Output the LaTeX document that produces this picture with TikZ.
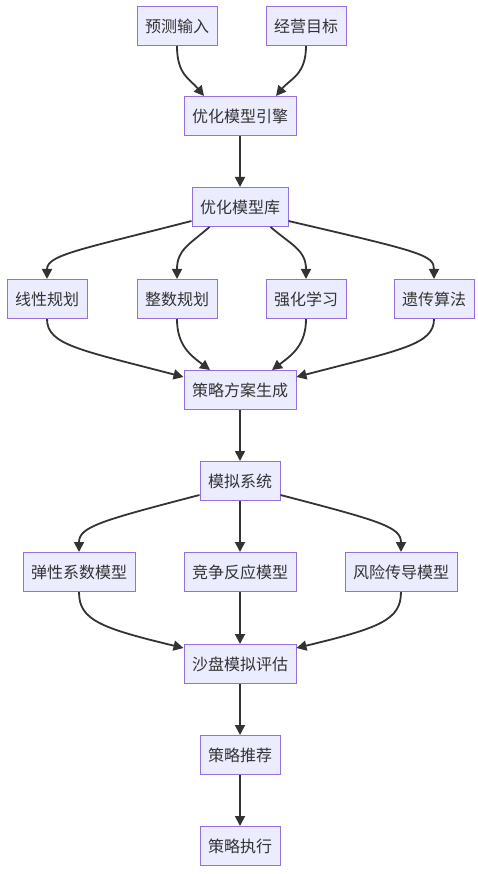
\documentclass[tikz,border=0pt]{standalone}
\usepackage{fontspec}
\newfontfamily\cjk{Noto Sans CJK SC}
\usetikzlibrary{arrows.meta,shapes}
\definecolor{boxfill}{HTML}{ECECFF}
\definecolor{boxline}{HTML}{9370DB}
\definecolor{edgecol}{HTML}{333333}
\begin{document}
\begin{tikzpicture}[x=1pt,y=-1pt]
				\tikzstyle{box}=[draw=boxline, fill=boxfill, line width=1pt, minimum height=39pt, inner xsep=8pt, text=edgecol, font=\cjk\fontsize{16}{19}\selectfont]
				\tikzstyle{arrow}=[draw=edgecol, line width=1.8pt, -{Triangle[length=10pt,width=10pt]}]
				\newcommand\XMid{240}
				\newcommand\XL{177}
				\newcommand\XR{306}

				\newcommand\Yin{26}
				\newcommand\Yeng{116}
				\newcommand\Ylib{207}
				\newcommand\Yalg{299}
				\newcommand\Yplan{390}
				\newcommand\Ysim{481}
				\newcommand\Ymod{572}
				\newcommand\Yeval{664}
				\newcommand\Yrec{755}
				\newcommand\Yexe{846}

				\useasboundingbox (0,0) rectangle (478,874);

				 % Inputs
				\node [box] at (\XL,\Yin) (fc) {预测输入};
				\node [box] at (\XR,\Yin) (goal) {经营目标};
				\node [box] at (\XMid,\Yeng) (eng) {优化模型引擎};
				\node [box] at (\XMid,\Ylib) (lib) {优化模型库};

				 % Algorithms
				\node [box] at (47,\Yalg) (lp) {线性规划};
				\node [box] at (\XL,\Yalg) (ip) {整数规划};
				\node [box] at (\XR,\Yalg) (rl) {强化学习};
				\node [box] at (434,\Yalg) (ga) {遗传算法};
				\node [box] at (\XMid,\Yplan) (plan) {策略方案生成};

				 % Simulation
				\node [box] at (\XMid,\Ysim) (sim) {模拟系统};
				\node [box] at (79,\Ymod) (elas) {弹性系数模型};
				\node [box] at (\XMid,\Ymod) (comp) {竞争反应模型};
				\node [box] at (401,\Ymod) (risk) {风险传导模型};
				\node [box] at (\XMid,\Yeval) (eval) {沙盘模拟评估};
				\node [box] at (\XMid,\Yrec) (rec) {策略推荐};
				\node [box] at (\XMid,\Yexe) (exe) {策略执行};

				 % Path Arrows
				\path [arrow] (fc.south) .. controls +(0,29) and +(-14,-17) .. ([xshift=-36pt]eng.north);
				\path [arrow] (goal.south) .. controls +(0,29) and +(14,-17) .. ([xshift=36pt]eng.north);
				\path [arrow] (eng) -- (lib);

				\path [arrow] ([yshift=6pt]lib.south west) .. controls +(-113,29) and +(0,-24) .. (lp.north);
				\path [arrow] ([xshift=18pt]lib.south west) .. controls +(-21,18) and +(0,-29) .. (ip.north);
				\path [arrow] ([xshift=-18pt]lib.south east) .. controls +(21,18) and +(0,-29) .. (rl.north);
				\path [arrow] ([yshift=6pt]lib.south east) .. controls +(133,31) and +(0,-24) .. (ga.north);

				\path [arrow] (lp.south) .. controls +(0,26) and +(-103,-27) .. ([yshift=-7pt]plan.north west);
				\path [arrow] (ip.south) .. controls +(0,26) and +(-20,-15) .. ([xshift=-30pt]plan.north);
				\path [arrow] (rl.south) .. controls +(0,26) and +(20,-15) .. ([xshift=32pt]plan.north);
				\path [arrow] (ga.south) .. controls +(0,26) and +(103,-27) .. ([yshift=-7pt]plan.north east);
				\path [arrow] (plan) -- (sim);

				\path [arrow] ([yshift=6pt]sim.south west) .. controls +(-100,26) and +(0,-25) .. (elas.north);
				\path [arrow] (sim) -- (comp);
				\path [arrow] ([yshift=6pt]sim.south east) .. controls +(100,26) and +(0,-25) .. (risk.north);

				\path [arrow] (elas.south) .. controls +(0,28) and +(-83,-20) .. ([yshift=-4pt]eval.north west);
				\path [arrow] (comp) -- (eval);
				\path [arrow] (risk.south) .. controls +(0,28) and +(83,-20) .. ([yshift=-4pt]eval.north east);
				\path [arrow] (eval) -- (rec);
				\path [arrow] (rec) -- (exe);

			\end{tikzpicture}
\end{document}
